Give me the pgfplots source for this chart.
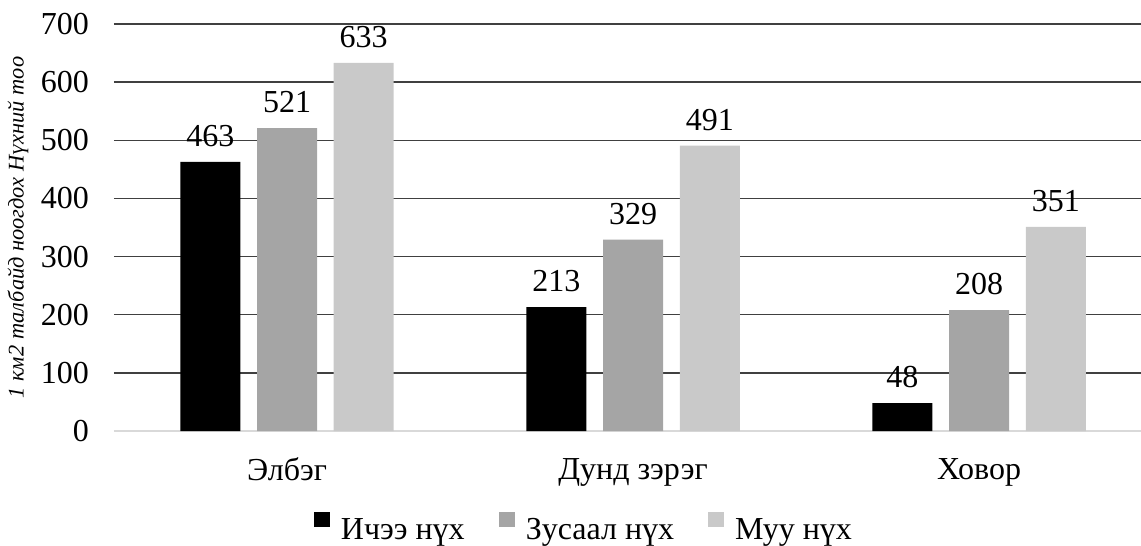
\documentclass[border=0pt]{standalone}
\usepackage{pgfplots}
\pgfplotsset{compat=1.18}
\usepackage{fontspec}
\setmainfont{Liberation Serif}

\definecolor{barA}{HTML}{000000}
\definecolor{barB}{HTML}{A5A5A5}
\definecolor{barC}{HTML}{C9C9C9}
\definecolor{gridc}{HTML}{404040}
\definecolor{basec}{HTML}{D9D9D9}

\newcommand{\lblfont}{\fontsize{16}{19}\selectfont}

\begin{document}
\begin{tikzpicture}
\begin{axis}[
    scale only axis,
    width=513.5pt, height=203.5pt,
    xmin=-0.5, xmax=2.468,
    ymin=0, ymax=700,
    ybar, bar width=0.1734,
    axis line style={draw=none},
    major tick length=0pt,
    /pgf/number format/assume math mode=true,
    ytick={100,200,...,700},
    extra y ticks={0},
    extra y tick style={grid style={color=basec, line width=0.9pt}},
    ymajorgrids,
    grid style={color=gridc, line width=0.65pt},
    xtick={0,1,2},
    xticklabels={Элбэг, Дунд зэрэг, Ховор},
    tick label style={font=\lblfont},
    yticklabel style={xshift=-9pt},
    xticklabel style={yshift=-10pt},
    ylabel={1 км2 талбайд ноогдох Нүхний тоо},
    every axis y label/.style={at={(rel axis cs:0,0.5)}, rotate=90,
        anchor=center, yshift=48pt, font=\itshape\fontsize{11.2}{13}\selectfont},
    nodes near coords,
    every node near coord/.append style={font=\lblfont, yshift=4pt, text=black},
    legend columns=-1,
    legend style={at={(0.4586,-0.242)}, anchor=center, draw=none, font=\lblfont,
        /tikz/every odd column/.append style={column sep=3.5pt},
        /tikz/every even column/.append style={column sep=15pt}},
    legend image code/.code={\fill[#1] (0pt,1.5pt) rectangle (8pt,9pt);},
]

%-- Ичээ нүх
\addplot[fill=barA, draw=none, bar shift=-0.2217]
coordinates {(0,463) (1,213) (2,48)};
\addlegendentry{Ичээ нүх}

%-- Зусаал нүх
\addplot[fill=barB, draw=none, bar shift=0]
coordinates {(0,521) (1,329) (2,208)};
\addlegendentry{Зусаал нүх}

%-- Муу нүх
\addplot[fill=barC, draw=none, bar shift=0.2217]
coordinates {(0,633) (1,491) (2,351)};
\addlegendentry{Муу нүх}

\end{axis}
\pgfresetboundingbox
\path[use as bounding box] (-57pt,-57.5pt) rectangle (513.5pt,215.5pt);
\end{tikzpicture}
\end{document}
